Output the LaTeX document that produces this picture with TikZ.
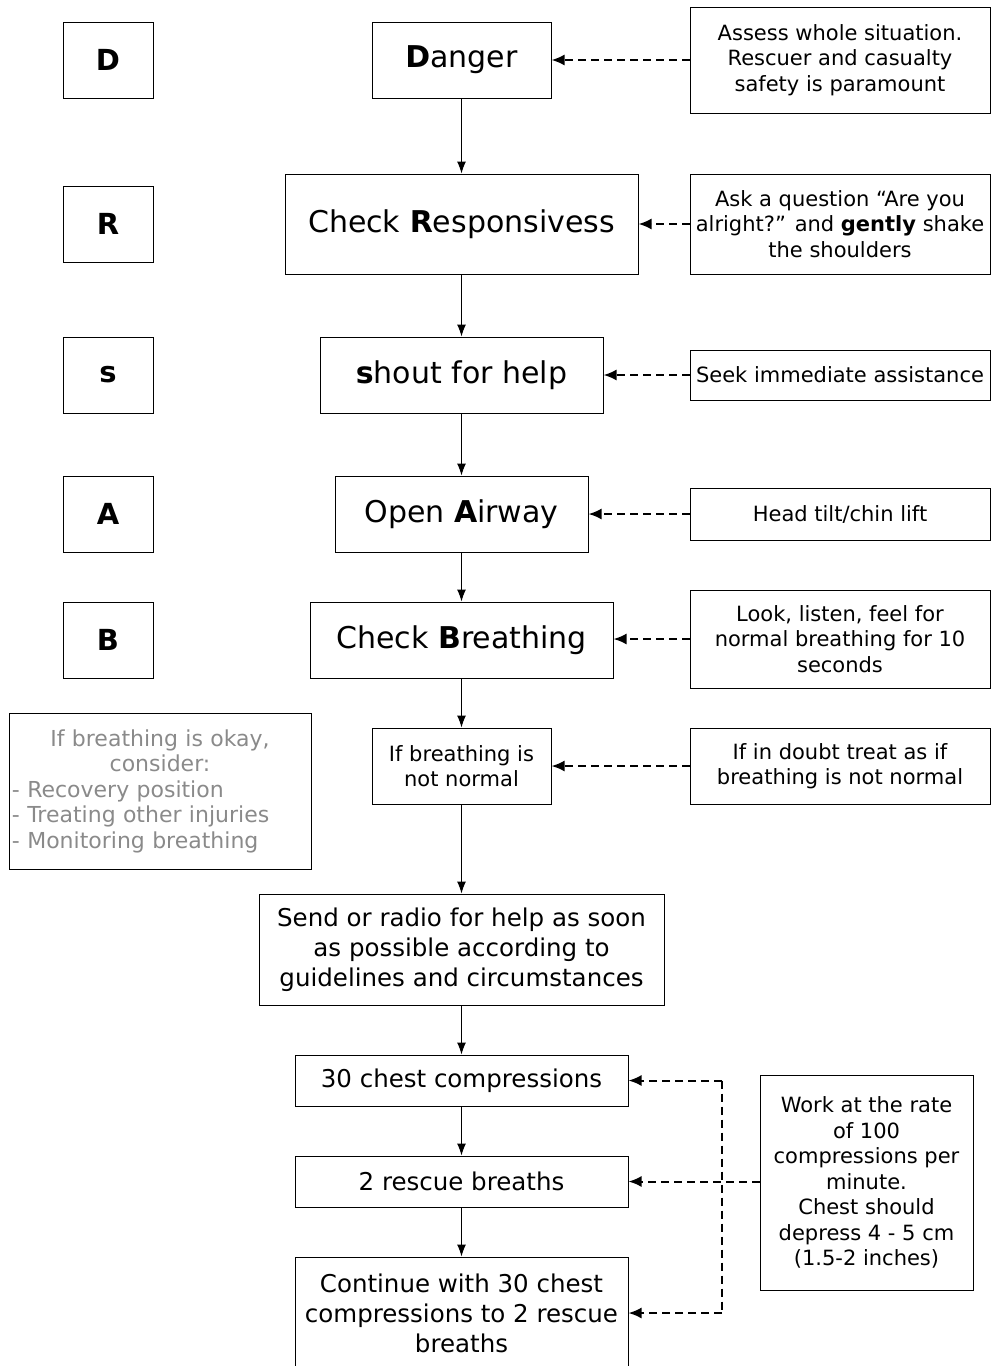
\documentclass[tikz,border=0pt]{standalone}
\usepackage{fontspec}
\setmainfont{DejaVu Sans}
\usetikzlibrary{arrows.meta}
\definecolor{softgray}{HTML}{8A8A8A}
\tikzset{
  box/.style={draw, line width=1pt, align=center, inner sep=0pt, anchor=center},
  bigtext/.style={font=\fontsize{30}{36}\selectfont},
  midtext/.style={font=\fontsize{24.5}{30}\selectfont},
  notetext/.style={font=\fontsize{21}{25.5}\selectfont},
  letterbox/.style={box, minimum width=90pt, minimum height=76pt, font=\fontsize{29}{34}\selectfont\bfseries},
  sidebox/.style={box, notetext, minimum width=300pt},
  flow/.style={line width=1pt, -{Latex[length=12pt,width=9pt]}},
  hintline/.style={line width=2pt, dash pattern=on 8pt off 5pt},
  hint/.style={hintline, -{Latex[length=13pt,width=11pt]}}
}
\begin{document}
\begin{tikzpicture}[x=1pt,y=-1pt]
\useasboundingbox (0,0) rectangle (991,1366);

% letter column
\node[letterbox] (lD) at (108,60) {D};
\node[letterbox] (lR) at (108,224) {R};
\node[letterbox] (lS) at (108,375) {s};
\node[letterbox] (lA) at (108,514) {A};
\node[letterbox] (lB) at (108,640) {B};

% main sequence
\node[box, bigtext, minimum width=179pt, minimum height=76pt] (danger) at (461.5,60) {{\bfseries D}anger};
\node[box, bigtext, minimum width=353pt, minimum height=100pt] (resp) at (461.5,224) {Check {\bfseries R}esponsivess};
\node[box, bigtext, minimum width=283pt, minimum height=76pt] (shout) at (461.5,375) {{\bfseries s}hout for help};
\node[box, bigtext, minimum width=253pt, minimum height=76pt] (airway) at (461.5,514) {Open {\bfseries A}irway};
\node[box, bigtext, minimum width=303pt, minimum height=76pt] (breath) at (461.5,640) {Check {\bfseries B}reathing};
\node[box, notetext, minimum width=179pt, minimum height=76pt] (notnormal) at (461.5,766) {If breathing is\\not normal};
\node[box, midtext, minimum width=405pt, minimum height=111pt] (send) at (461.5,949.5) {Send or radio for help as soon\\as possible according to\\guidelines and circumstances};
\node[box, midtext, minimum width=333pt, minimum height=51pt] (comp) at (461.5,1080.5) {30 chest compressions};
\node[box, midtext, minimum width=333pt, minimum height=51pt] (rescue) at (461.5,1181.5) {2 rescue breaths};
\node[box, midtext, minimum width=333pt, minimum height=112pt] (cont) at (461.5,1313) {Continue with 30 chest\\compressions to 2 rescue\\breaths};

% side notes
\node[sidebox, minimum height=106pt] (assess) at (840,60) {Assess whole situation.\\Rescuer and casualty\\safety is paramount};
\node[sidebox, minimum height=100pt] (ask) at (840,224) {Ask a question “Are you\\alright?” and {\bfseries gently} shake\\the shoulders};
\node[sidebox, minimum height=50pt] (seek) at (840,375) {Seek immediate assistance};
\node[sidebox, minimum height=52pt] (head) at (840,514) {Head tilt/chin lift};
\node[sidebox, minimum height=98pt] (look) at (840,639) {Look, listen, feel for\\normal breathing for 10\\seconds};
\node[sidebox, minimum height=76pt] (doubt) at (840,766) {If in doubt treat as if\\breathing is not normal};
\node[box, notetext, minimum width=213pt, minimum height=215pt] (work) at (866.5,1182.5) {Work at the rate\\of 100\\compressions per\\minute.\\Chest should\\depress 4 - 5 cm\\(1.5-2 inches)};

% breathing-okay note
\node[draw, line width=1pt, font=\fontsize{22}{25.5}\selectfont, text=softgray, text width=296pt, align=left, inner xsep=3pt, inner ysep=0pt, minimum width=302pt, minimum height=156pt] (okay) at (160,791)
  {{\centering If breathing is okay,\\consider:\par}- Recovery position\\- Treating other injuries\\- Monitoring breathing};

% flow arrows
\draw[flow] (danger) -- (resp);
\draw[flow] (resp) -- (shout);
\draw[flow] (shout) -- (airway);
\draw[flow] (airway) -- (breath);
\draw[flow] (breath) -- (notnormal);
\draw[flow] (notnormal) -- (send);
\draw[flow] (send) -- (comp);
\draw[flow] (comp) -- (rescue);
\draw[flow] (rescue) -- (cont);

% dashed hints
\draw[hint] (assess.west) -- (danger.east);
\draw[hint] (ask.west) -- (resp.east);
\draw[hint] (seek.west) -- (shout.east);
\draw[hint] (head.west) -- (airway.east);
\draw[hint] (look.west) -- (look.west -| breath.east);
\draw[hint] (doubt.west) -- (notnormal.east);

% rate note feeding the compression cycle
\coordinate (busT) at (722,1080.5);
\coordinate (busB) at (722,1313);
\draw[hintline] (busT) -- (busB);
\draw[hint] (busT) -- (comp.east);
\draw[hint] (busB) -- (cont.east);
\draw[hint] (work.west |- rescue.east) -- (rescue.east);
\end{tikzpicture}
\end{document}
